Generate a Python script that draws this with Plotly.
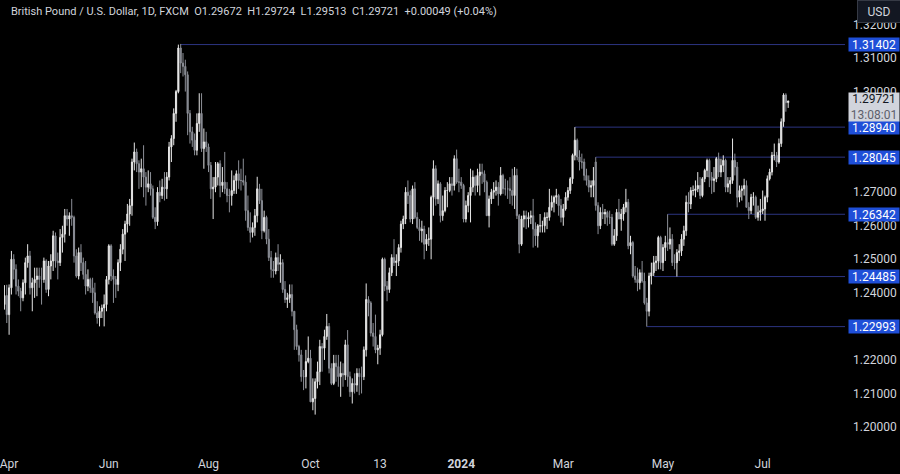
import pandas as pd
import plotly.graph_objects as go

# GBP/USD daily, FXCM: 30 Mar 2023 -> 16 Jul 2024 (one row per week)
dates = [d.strftime("%Y-%m-%d") for d in pd.bdate_range("2023-03-30", "2024-07-16")]

opens = [
    1.2365, 1.2392,
    1.2335, 1.2415, 1.2500, 1.2470, 1.2420,
    1.2405, 1.2385, 1.2430, 1.2490, 1.2510,
    1.2415, 1.2430, 1.2440, 1.2450, 1.2440,
    1.2440, 1.2495, 1.2410, 1.2480, 1.2495,
    1.2570, 1.2495, 1.2490, 1.2565, 1.2575,
    1.2630, 1.2620, 1.2630, 1.2625, 1.2510,
    1.2450, 1.2520, 1.2490, 1.2455, 1.2420,
    1.2440, 1.2415, 1.2400, 1.2340, 1.2325,
    1.2345, 1.2355, 1.2365, 1.2440, 1.2540,
    1.2450, 1.2440, 1.2425, 1.2490, 1.2530,
    1.2575, 1.2605, 1.2635, 1.2660, 1.2790,
    1.2820, 1.2785, 1.2760, 1.2770, 1.2745,
    1.2715, 1.2725, 1.2710, 1.2625, 1.2612,
    1.2700, 1.2690, 1.2715, 1.2710, 1.2745,
    1.2835, 1.2860, 1.2935, 1.3000, 1.3130,
    1.3085, 1.3075, 1.3050, 1.2935, 1.2880,
    1.2855, 1.2825, 1.2905, 1.2935, 1.2830,
    1.2850, 1.2835, 1.2780, 1.2710, 1.2715,
    1.2745, 1.2785, 1.2720, 1.2730, 1.2710,
    1.2690, 1.2690, 1.2705, 1.2735, 1.2755,
    1.2735, 1.2735, 1.2730, 1.2645, 1.2595,
    1.2580, 1.2595, 1.2630, 1.2710, 1.2675,
    1.2585, 1.2625, 1.2560, 1.2505, 1.2470,
    1.2465, 1.2505, 1.2485, 1.2490, 1.2410,
    1.2380, 1.2385, 1.2395, 1.2345, 1.2290,
    1.2240, 1.2215, 1.2150, 1.2150, 1.2195,
    1.2205, 1.2075, 1.2085, 1.2135, 1.2165,
    1.2240, 1.2235, 1.2270, 1.2300, 1.2175,
    1.2130, 1.2190, 1.2180, 1.2150, 1.2160,
    1.2155, 1.2245, 1.2150, 1.2105, 1.2130,
    1.2125, 1.2160, 1.2150, 1.2150, 1.2230,
    1.2380, 1.2370, 1.2280, 1.2270, 1.2230,
    1.2235, 1.2275, 1.2500, 1.2420, 1.2410,
    1.2460, 1.2505, 1.2490, 1.2495, 1.2535,
    1.2605, 1.2620, 1.2700, 1.2690, 1.2620,
    1.2710, 1.2625, 1.2595, 1.2585, 1.2590,
    1.2545, 1.2560, 1.2560, 1.2685, 1.2770,
    1.2680, 1.2725, 1.2630, 1.2645, 1.2705,
    1.2705, 1.2725, 1.2720, 1.2800, 1.2730,
    1.2730, 1.2720, 1.2620, 1.2660, 1.2690,
    1.2715, 1.2745, 1.2720, 1.2750, 1.2760,
    1.2755, 1.2730, 1.2630, 1.2680, 1.2700,
    1.2705, 1.2715, 1.2695, 1.2750, 1.2710,
    1.2710, 1.2710, 1.2705, 1.2690, 1.2750,
    1.2630, 1.2545, 1.2620, 1.2630, 1.2620,
    1.2625, 1.2630, 1.2590, 1.2570, 1.2600,
    1.2600, 1.2600, 1.2625, 1.2625, 1.2655,
    1.2670, 1.2685, 1.2690, 1.2660, 1.2625,
    1.2650, 1.2685, 1.2705, 1.2740, 1.2810,
    1.2855, 1.2805, 1.2790, 1.2790, 1.2750,
    1.2735, 1.2715, 1.2720, 1.2790, 1.2660,
    1.2600, 1.2640, 1.2635, 1.2640, 1.2625,
    1.2625, 1.2545, 1.2570, 1.2640, 1.2620,
    1.2635, 1.2655, 1.2670, 1.2540, 1.2550,
    1.2450, 1.2440, 1.2430, 1.2460, 1.2435,
    1.2370, 1.2345, 1.2450, 1.2460, 1.2490,
    1.2495, 1.2565, 1.2490, 1.2535, 1.2550,
    1.2545, 1.2560, 1.2490, 1.2490, 1.2520,
    1.2525, 1.2560, 1.2585, 1.2670, 1.2665,
    1.2705, 1.2705, 1.2710, 1.2720, 1.2690,
    1.2740, 1.2765, 1.2795, 1.2745, 1.2735,
    1.2740, 1.2800, 1.2760, 1.2780, 1.2795,
    1.2715, 1.2725, 1.2735, 1.2795, 1.2775,
    1.2685, 1.2705, 1.2710, 1.2720, 1.2655,
    1.2645, 1.2685, 1.2685, 1.2625, 1.2640,
    1.2645, 1.2650, 1.2685, 1.2740, 1.2760,
    1.2810, 1.2810, 1.2790, 1.2845, 1.2910,
    1.2990, 1.29672,
]

highs = [
    1.2423, 1.2424,
    1.2425, 1.2525, 1.2515, 1.2485, 1.2440,
    1.2415, 1.2440, 1.2505, 1.2545, 1.2525,
    1.2445, 1.2475, 1.2475, 1.2475, 1.2475,
    1.2505, 1.2500, 1.2495, 1.2515, 1.2585,
    1.2580, 1.2520, 1.2590, 1.2600, 1.2650,
    1.2650, 1.2640, 1.2680, 1.2630, 1.2530,
    1.2535, 1.2545, 1.2505, 1.2495, 1.2470,
    1.2445, 1.2445, 1.2430, 1.2375, 1.2360,
    1.2365, 1.2395, 1.2450, 1.2545, 1.2545,
    1.2470, 1.2450, 1.2500, 1.2545, 1.2590,
    1.2615, 1.2665, 1.2680, 1.2800, 1.2848,
    1.2830, 1.2795, 1.2800, 1.2840, 1.2760,
    1.2765, 1.2760, 1.2720, 1.2655, 1.2715,
    1.2735, 1.2740, 1.2760, 1.2760, 1.2850,
    1.2870, 1.2950, 1.3005, 1.3140, 1.3142,
    1.3115, 1.3095, 1.3060, 1.2945, 1.2895,
    1.2875, 1.2935, 1.2995, 1.2995, 1.2890,
    1.2880, 1.2845, 1.2790, 1.2745, 1.2790,
    1.2790, 1.2795, 1.2775, 1.2820, 1.2730,
    1.2710, 1.2765, 1.2750, 1.2765, 1.2795,
    1.2770, 1.2800, 1.2750, 1.2690, 1.2640,
    1.2610, 1.2650, 1.2746, 1.2725, 1.2710,
    1.2645, 1.2630, 1.2590, 1.2525, 1.2495,
    1.2520, 1.2545, 1.2515, 1.2500, 1.2435,
    1.2400, 1.2425, 1.2425, 1.2345, 1.2305,
    1.2245, 1.2230, 1.2170, 1.2230, 1.2270,
    1.2230, 1.2145, 1.2145, 1.2195, 1.2260,
    1.2250, 1.2290, 1.2337, 1.2310, 1.2190,
    1.2215, 1.2215, 1.2215, 1.2195, 1.2190,
    1.2260, 1.2289, 1.2165, 1.2145, 1.2160,
    1.2175, 1.2175, 1.2180, 1.2240, 1.2428,
    1.2390, 1.2375, 1.2310, 1.2335, 1.2245,
    1.2290, 1.2505, 1.2505, 1.2435, 1.2475,
    1.2515, 1.2560, 1.2515, 1.2545, 1.2615,
    1.2630, 1.2715, 1.2735, 1.2705, 1.2720,
    1.2730, 1.2640, 1.2620, 1.2615, 1.2600,
    1.2575, 1.2595, 1.2690, 1.2795, 1.2780,
    1.2735, 1.2730, 1.2690, 1.2715, 1.2730,
    1.2745, 1.2745, 1.2810, 1.2827, 1.2770,
    1.2745, 1.2725, 1.2675, 1.2700, 1.2770,
    1.2765, 1.2750, 1.2770, 1.2785, 1.2785,
    1.2765, 1.2735, 1.2690, 1.2710, 1.2730,
    1.2735, 1.2730, 1.2775, 1.2755, 1.2740,
    1.2735, 1.2745, 1.2770, 1.2775, 1.2770,
    1.2635, 1.2630, 1.2645, 1.2645, 1.2640,
    1.2645, 1.2680, 1.2610, 1.2605, 1.2635,
    1.2615, 1.2640, 1.2640, 1.2710, 1.2690,
    1.2690, 1.2710, 1.2695, 1.2680, 1.2665,
    1.2700, 1.2715, 1.2745, 1.2815, 1.2894,
    1.2860, 1.2825, 1.2815, 1.2800, 1.2770,
    1.2750, 1.2735, 1.2775, 1.28045, 1.2670,
    1.2655, 1.2665, 1.2650, 1.2645, 1.2645,
    1.2635, 1.2590, 1.2650, 1.2680, 1.2650,
    1.2665, 1.2710, 1.2680, 1.2570, 1.2555,
    1.2480, 1.2475, 1.2470, 1.2495, 1.2460,
    1.2385, 1.2460, 1.2490, 1.2510, 1.2510,
    1.2570, 1.2570, 1.2545, 1.2570, 1.26342,
    1.2595, 1.2575, 1.2515, 1.2530, 1.2545,
    1.2575, 1.2600, 1.2690, 1.2700, 1.2715,
    1.2720, 1.2735, 1.2760, 1.2745, 1.2745,
    1.2770, 1.2800, 1.2800, 1.2760, 1.2775,
    1.2805, 1.2818, 1.2800, 1.2810, 1.2800,
    1.2745, 1.2745, 1.2860, 1.2815, 1.2790,
    1.2720, 1.2720, 1.2740, 1.2735, 1.2670,
    1.2695, 1.2700, 1.2690, 1.2660, 1.2680,
    1.2705, 1.2690, 1.2750, 1.2770, 1.2820,
    1.2845, 1.2820, 1.2860, 1.2920, 1.2995,
    1.2995, 1.29724,
]

lows = [
    1.2350, 1.2310,
    1.2275, 1.2395, 1.2440, 1.2395, 1.2390,
    1.2345, 1.2375, 1.2395, 1.2475, 1.2395,
    1.2345, 1.2385, 1.2390, 1.2415, 1.2365,
    1.2430, 1.2400, 1.2390, 1.2440, 1.2465,
    1.2475, 1.2440, 1.2480, 1.2520, 1.2550,
    1.2600, 1.2570, 1.2600, 1.2490, 1.2445,
    1.2440, 1.2465, 1.2440, 1.2395, 1.2405,
    1.2400, 1.2370, 1.2335, 1.2308, 1.2300,
    1.2325, 1.2300, 1.2345, 1.2425, 1.2435,
    1.2370, 1.2385, 1.2405, 1.2465, 1.2515,
    1.2495, 1.2580, 1.2600, 1.2630, 1.2765,
    1.2760, 1.2710, 1.2715, 1.2685, 1.2660,
    1.2700, 1.2690, 1.2620, 1.2590, 1.2600,
    1.2670, 1.2680, 1.2675, 1.2680, 1.2735,
    1.2790, 1.2840, 1.2910, 1.2995, 1.3055,
    1.3045, 1.3000, 1.2870, 1.2845, 1.2835,
    1.2810, 1.2810, 1.2880, 1.2820, 1.2770,
    1.2820, 1.2760, 1.2680, 1.2620, 1.2700,
    1.2720, 1.2685, 1.2700, 1.2695, 1.2670,
    1.2640, 1.2660, 1.2695, 1.2695, 1.2710,
    1.2705, 1.2720, 1.2615, 1.2585, 1.2550,
    1.2565, 1.2570, 1.2610, 1.2665, 1.2560,
    1.2580, 1.2545, 1.2495, 1.2445, 1.2445,
    1.2455, 1.2465, 1.2430, 1.2400, 1.2370,
    1.2355, 1.2370, 1.2330, 1.2230, 1.2230,
    1.2195, 1.2135, 1.2110, 1.2115, 1.2190,
    1.2075, 1.2050, 1.2037, 1.2115, 1.2125,
    1.2165, 1.2200, 1.2260, 1.2160, 1.2125,
    1.2125, 1.2135, 1.2120, 1.2090, 1.2120,
    1.2140, 1.2120, 1.2090, 1.2070, 1.2100,
    1.2105, 1.2095, 1.2100, 1.2140, 1.2210,
    1.2330, 1.2270, 1.2240, 1.2220, 1.2187,
    1.2215, 1.2270, 1.2405, 1.2375, 1.2400,
    1.2450, 1.2480, 1.2450, 1.2480, 1.2520,
    1.2590, 1.2605, 1.2665, 1.2610, 1.2605,
    1.2620, 1.2590, 1.2555, 1.2550, 1.2500,
    1.2525, 1.2540, 1.2500, 1.2630, 1.2660,
    1.2665, 1.2610, 1.2615, 1.2640, 1.2655,
    1.2700, 1.2690, 1.2705, 1.2725, 1.2700,
    1.2710, 1.2610, 1.2610, 1.2640, 1.2610,
    1.2700, 1.2690, 1.2700, 1.2690, 1.2725,
    1.2700, 1.2630, 1.2595, 1.2665, 1.2680,
    1.2690, 1.2660, 1.2690, 1.2695, 1.2690,
    1.2680, 1.2665, 1.2660, 1.2650, 1.2620,
    1.2518, 1.2540, 1.2595, 1.2590, 1.2595,
    1.2605, 1.2535, 1.2540, 1.2535, 1.2580,
    1.2580, 1.2580, 1.2590, 1.2615, 1.2645,
    1.2640, 1.2665, 1.2630, 1.2610, 1.2600,
    1.2645, 1.2675, 1.2695, 1.2725, 1.2795,
    1.2795, 1.2765, 1.2770, 1.2735, 1.2720,
    1.2700, 1.2685, 1.2685, 1.2645, 1.2575,
    1.2590, 1.2620, 1.2605, 1.2600, 1.2605,
    1.2540, 1.2540, 1.2555, 1.2620, 1.2585,
    1.2615, 1.2640, 1.2530, 1.2515, 1.2445,
    1.2430, 1.2405, 1.2410, 1.2430, 1.2365,
    1.22993, 1.2330, 1.2425, 1.2450, 1.2465,
    1.2470, 1.2470, 1.2465, 1.2495, 1.2525,
    1.2530, 1.2480, 1.2470, 1.24485, 1.2495,
    1.2510, 1.2540, 1.2570, 1.2640, 1.2650,
    1.2690, 1.2685, 1.2700, 1.2680, 1.2685,
    1.2730, 1.2745, 1.2715, 1.2695, 1.2700,
    1.2730, 1.2745, 1.2745, 1.2760, 1.2700,
    1.2700, 1.2695, 1.2725, 1.2750, 1.2655,
    1.2670, 1.2675, 1.2690, 1.2655, 1.2620,
    1.2635, 1.2660, 1.2620, 1.2615, 1.2615,
    1.2635, 1.2615, 1.2670, 1.2735, 1.2750,
    1.2795, 1.2775, 1.2785, 1.2835, 1.2895,
    1.2940, 1.29513,
]

closes = [
    1.2392, 1.2335,
    1.2415, 1.2500, 1.2470, 1.2420, 1.2405,
    1.2385, 1.2430, 1.2490, 1.2510, 1.2415,
    1.2430, 1.2440, 1.2450, 1.2440, 1.2440,
    1.2495, 1.2410, 1.2480, 1.2495, 1.2570,
    1.2495, 1.2490, 1.2565, 1.2575, 1.2630,
    1.2620, 1.2630, 1.2625, 1.2510, 1.2450,
    1.2520, 1.2490, 1.2455, 1.2420, 1.2440,
    1.2415, 1.2400, 1.2340, 1.2325, 1.2345,
    1.2355, 1.2365, 1.2440, 1.2540, 1.2450,
    1.2440, 1.2425, 1.2490, 1.2530, 1.2575,
    1.2605, 1.2635, 1.2660, 1.2790, 1.2820,
    1.2785, 1.2760, 1.2770, 1.2745, 1.2715,
    1.2725, 1.2710, 1.2625, 1.2612, 1.2700,
    1.2690, 1.2715, 1.2710, 1.2745, 1.2835,
    1.2860, 1.2935, 1.3000, 1.3130, 1.3085,
    1.3075, 1.3050, 1.2935, 1.2880, 1.2855,
    1.2825, 1.2905, 1.2935, 1.2830, 1.2850,
    1.2835, 1.2780, 1.2710, 1.2715, 1.2745,
    1.2785, 1.2720, 1.2730, 1.2710, 1.2690,
    1.2690, 1.2705, 1.2735, 1.2755, 1.2735,
    1.2735, 1.2730, 1.2645, 1.2595, 1.2580,
    1.2595, 1.2630, 1.2710, 1.2675, 1.2585,
    1.2625, 1.2560, 1.2505, 1.2470, 1.2465,
    1.2505, 1.2485, 1.2490, 1.2410, 1.2380,
    1.2385, 1.2395, 1.2345, 1.2290, 1.2240,
    1.2215, 1.2150, 1.2150, 1.2195, 1.2205,
    1.2075, 1.2085, 1.2135, 1.2165, 1.2240,
    1.2235, 1.2270, 1.2300, 1.2175, 1.2130,
    1.2190, 1.2180, 1.2150, 1.2160, 1.2155,
    1.2245, 1.2150, 1.2105, 1.2130, 1.2125,
    1.2160, 1.2150, 1.2150, 1.2230, 1.2380,
    1.2370, 1.2280, 1.2270, 1.2230, 1.2235,
    1.2275, 1.2500, 1.2420, 1.2410, 1.2460,
    1.2505, 1.2490, 1.2495, 1.2535, 1.2605,
    1.2620, 1.2700, 1.2690, 1.2620, 1.2710,
    1.2625, 1.2595, 1.2585, 1.2590, 1.2545,
    1.2560, 1.2560, 1.2685, 1.2770, 1.2680,
    1.2725, 1.2630, 1.2645, 1.2705, 1.2705,
    1.2725, 1.2720, 1.2800, 1.2730, 1.2730,
    1.2720, 1.2620, 1.2660, 1.2690, 1.2715,
    1.2745, 1.2720, 1.2750, 1.2760, 1.2755,
    1.2730, 1.2630, 1.2680, 1.2700, 1.2705,
    1.2715, 1.2695, 1.2750, 1.2710, 1.2710,
    1.2710, 1.2705, 1.2690, 1.2750, 1.2630,
    1.2545, 1.2620, 1.2630, 1.2620, 1.2625,
    1.2630, 1.2590, 1.2570, 1.2600, 1.2600,
    1.2600, 1.2625, 1.2625, 1.2655, 1.2670,
    1.2685, 1.2690, 1.2660, 1.2625, 1.2650,
    1.2685, 1.2705, 1.2740, 1.2810, 1.2855,
    1.2805, 1.2790, 1.2790, 1.2750, 1.2735,
    1.2715, 1.2720, 1.2735, 1.2660, 1.2600,
    1.2640, 1.2635, 1.2640, 1.2625, 1.2625,
    1.2545, 1.2570, 1.2640, 1.2620, 1.2635,
    1.2655, 1.2670, 1.2540, 1.2550, 1.2450,
    1.2440, 1.2430, 1.2460, 1.2435, 1.2370,
    1.2345, 1.2450, 1.2460, 1.2490, 1.2495,
    1.2565, 1.2490, 1.2535, 1.2550, 1.2545,
    1.2560, 1.2490, 1.2490, 1.2520, 1.2525,
    1.2560, 1.2585, 1.2670, 1.2665, 1.2705,
    1.2705, 1.2710, 1.2720, 1.2690, 1.2740,
    1.2765, 1.2795, 1.2745, 1.2735, 1.2740,
    1.2800, 1.2760, 1.2780, 1.2795, 1.2715,
    1.2725, 1.2735, 1.2795, 1.2775, 1.2685,
    1.2705, 1.2710, 1.2720, 1.2655, 1.2645,
    1.2685, 1.2685, 1.2625, 1.2640, 1.2645,
    1.2650, 1.2685, 1.2740, 1.2760, 1.2810,
    1.2810, 1.2790, 1.2845, 1.2910, 1.2990,
    1.2967, 1.29721,
]

# horizontal rays drawn on the chart
level_prices = [1.31402, 1.28940, 1.28045, 1.26342, 1.24485, 1.22993]
level_starts = ["2023-07-14", "2024-03-08", "2024-03-21", "2024-05-03", "2024-04-25", "2024-04-22"]

x_tick_dates = ["2023-04-03", "2023-06-01", "2023-08-01", "2023-10-02", "2023-11-13",
                "2024-01-01", "2024-03-01", "2024-05-01", "2024-07-01"]
x_tick_text = ["Apr", "Jun", "Aug", "Oct", "13", "<b>2024</b>", "Mar", "May", "Jul"]
# 1.23 / 1.28 / 1.29 sit under the level labels on the price scale, so they are not shown
y_ticks = [1.20, 1.21, 1.22, 1.24, 1.25, 1.26, 1.27, 1.30, 1.31, 1.32]

last_price = 1.29721
countdown = "13:08:01"
header = ("British Pound / U.S. Dollar, 1D, FXCM&nbsp;&nbsp;O1.29672&nbsp;&nbsp;H1.29724"
          "&nbsp;&nbsp;L1.29513&nbsp;&nbsp;C1.29721&nbsp;&nbsp;+0.00049 (+0.04%)")

FONT = "Roboto, sans-serif"
TEXT = "#d1d4dc"

fig = go.Figure(
    go.Candlestick(
        x=dates, open=opens, high=highs, low=lows, close=closes,
        increasing=dict(line=dict(color="#e6e6e6", width=1), fillcolor="#f2f2f2"),
        decreasing=dict(line=dict(color="#8c8f97", width=1), fillcolor="#80838b"),
        whiskerwidth=0, hoverinfo="skip", showlegend=False,
    )
)

n_right = len(dates) + 24
for price, start in zip(level_prices, level_starts):
    fig.add_shape(type="line", xref="x", yref="y",
                  x0=dates.index(start), x1=n_right, y0=price, y1=price,
                  line=dict(color="#2c3480", width=1), layer="below")
    fig.add_annotation(x=1, xref="paper", xanchor="left", xshift=3, y=price, yref="y",
                       text=f"{price:.5f}", showarrow=False, width=48, height=11,
                       bgcolor="#1f4fd8", borderpad=1,
                       font=dict(family=FONT, size=12, color="#ffffff"))

fig.add_annotation(x=1, xref="paper", xanchor="left", xshift=3, y=last_price, yref="y",
                   yanchor="top", yshift=9, showarrow=False, width=48, height=26,
                   text=f"{last_price:.5f}<br><span style='color:#5d606b'>{countdown}</span>",
                   bgcolor="#d1d4dc", borderpad=1,
                   font=dict(family=FONT, size=12, color="#131722"))

# currency button; it sits over the top of the 1.32000 label as in the original
fig.add_annotation(x=1, xref="paper", xanchor="left", xshift=12, y=1, yref="paper",
                   yanchor="top", showarrow=False, text="USD", width=40, height=19,
                   bgcolor="#131722", bordercolor="#363a45", borderwidth=1,
                   font=dict(family=FONT, size=12, color=TEXT))

fig.add_annotation(x=0, xref="paper", xanchor="left", xshift=5, y=1, yref="paper",
                   yanchor="top", yshift=-3, showarrow=False, text=header,
                   font=dict(family=FONT, size=11, color=TEXT))

fig.update_layout(
    width=900, height=474,
    paper_bgcolor="#000000", plot_bgcolor="#000000",
    margin=dict(l=0, r=55, t=0, b=22),
    font=dict(family=FONT, size=12, color=TEXT),
    xaxis=dict(type="category", range=[-0.2, 362.5], rangeslider=dict(visible=False),
               tickmode="array", tickvals=x_tick_dates, ticktext=x_tick_text,
               showgrid=False, zeroline=False, showline=False, ticks="",
               ticklabelstandoff=3,
               tickfont=dict(family=FONT, size=12, color=TEXT)),
    yaxis=dict(side="right", range=[1.19255, 1.3273], tickmode="array",
               tickvals=y_ticks, ticktext=[f"{v:.5f}" for v in y_ticks],
               showgrid=False, zeroline=False, showline=False, ticks="",
               ticklabelstandoff=7,
               tickfont=dict(family=FONT, size=12, color=TEXT)),
)

# the page body has a default 8px margin; drop it so the figure fills the window
fig.write_html("out.html", config={"displayModeBar": False},
               post_script="document.body.style.margin='0';"
                           "document.body.style.background='#000';")
